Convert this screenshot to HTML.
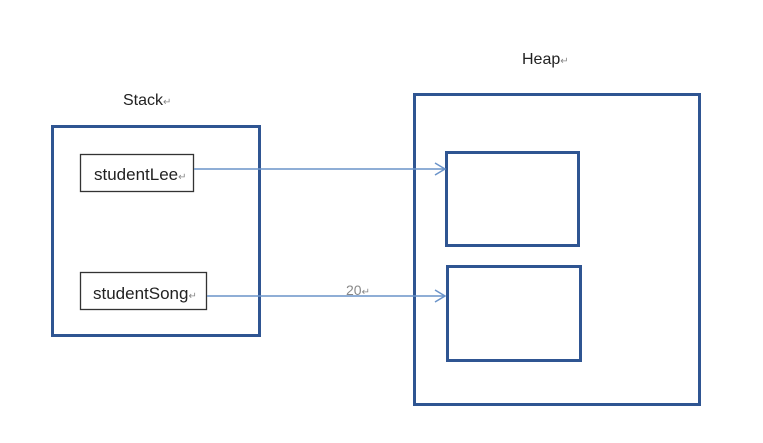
<!DOCTYPE html>
<html><head><meta charset="utf-8"><style>
body{margin:0;background:#fff;}
svg{display:block}
text{font-family:"Liberation Sans",sans-serif;}
</style></head><body>
<svg width="763" height="443" viewBox="0 0 763 443" xmlns="http://www.w3.org/2000/svg">
<g fill="none" stroke="#2f5592" stroke-width="3">
<rect x="52.5" y="126.5" width="207" height="209"/>
<rect x="414.5" y="94.5" width="285" height="310"/>
<rect x="446.5" y="152.5" width="132" height="93"/>
<rect x="447.5" y="266.5" width="133" height="94"/>
</g>
<g fill="#fff" stroke="#333" stroke-width="1.3">
<rect x="80.5" y="154.5" width="113" height="37"/>
<rect x="80.5" y="272.5" width="126" height="37"/>
</g>
<g stroke="#6a93c9" stroke-width="1.5" fill="none">
<line x1="194" y1="169" x2="445" y2="169"/>
<polyline points="435,163 445,169 435,175"/>
<line x1="207" y1="296" x2="445" y2="296"/>
<polyline points="435,290 445,296 435,302"/>
</g>
<g fill="#222">
<text x="94" y="180" font-size="17">studentLee<tspan font-size="10" fill="#888">↵</tspan></text>
<text x="93" y="299" font-size="17">studentSong<tspan font-size="10" fill="#888">↵</tspan></text>
<text x="123" y="105" font-size="16">Stack<tspan font-size="10" fill="#888">↵</tspan></text>
<text x="522" y="64" font-size="16">Heap<tspan font-size="10" fill="#888">↵</tspan></text>
</g>
<text x="346" y="295" font-size="14" fill="#888">20<tspan font-size="10">↵</tspan></text>
</svg>
</body></html>
